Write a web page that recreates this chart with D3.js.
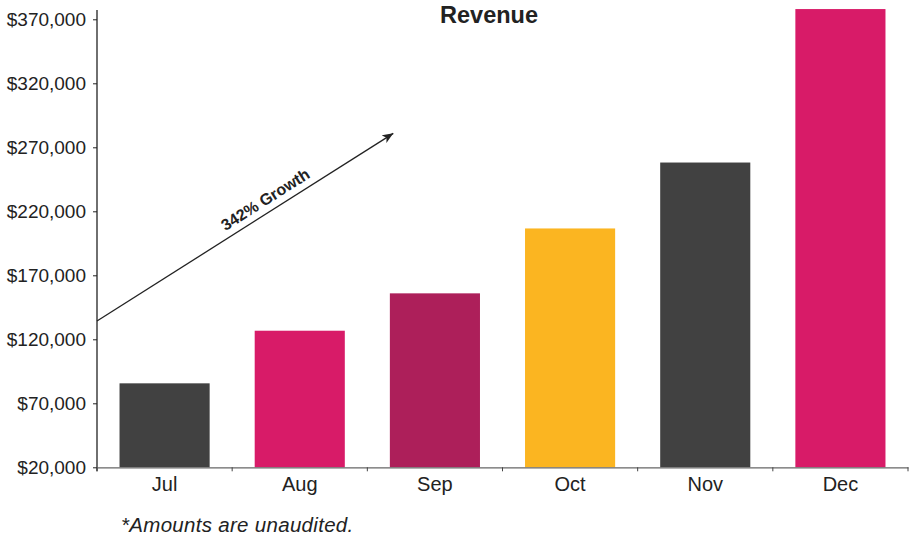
<!DOCTYPE html>
<html>
<head>
<meta charset="utf-8">
<script src="https://cdn.jsdelivr.net/npm/d3@7"></script>
<style>
  html, body { margin: 0; padding: 0; background: #fff; }
  svg { display: block; font-family: "Liberation Sans", Arial, Helvetica, sans-serif; }
</style>
</head>
<body>
<svg id="chart" width="911" height="537"></svg>
<script>
const months = ["Jul", "Aug", "Sep", "Oct", "Nov", "Dec"];
const revenue = [85600, 126700, 155900, 206600, 258100, 378000];
const barColors = ["#414141", "#d81b68", "#ad1f5a", "#fbb521", "#414141", "#d81b68"];
const yTicks = [20000, 70000, 120000, 170000, 220000, 270000, 320000, 370000];
const titleText = "Revenue";
const footnote = "*Amounts are unaudited.";
const growthLabel = "342% Growth";
const arrowValues = [134300, 280900];

(function () {
const svg = d3.select("#chart");
const mLeft = 97, mRight = 908, mTop = 19.3, mBottom = 467.3;

const x = d3.scaleBand().domain(months).range([mLeft, mRight])
  .paddingInner(1 / 3).paddingOuter(1 / 6);
const y = d3.scaleLinear().domain([20000, 370000]).range([mBottom, mTop]);

// bars
svg.append("g").selectAll("rect").data(months).join("rect")
  .attr("x", d => x(d))
  .attr("width", x.bandwidth())
  .attr("y", (d, i) => y(revenue[i]))
  .attr("height", (d, i) => mBottom - y(revenue[i]))
  .attr("fill", (d, i) => barColors[i]);

// y axis
const yAxis = svg.append("g").attr("transform", `translate(${mLeft},0)`)
  .call(d3.axisLeft(y).tickValues(yTicks).tickSize(4).tickPadding(7)
    .tickFormat(d => "$" + d3.format(",")(d)));
yAxis.select(".domain").attr("d", `M0,10V${mBottom + 4}`).attr("stroke", "#222").attr("stroke-width", 1.3);
yAxis.selectAll(".tick line").attr("stroke", "#222");
yAxis.selectAll(".tick text").attr("font-size", 19).attr("fill", "#222")
  .attr("font-family", "'Liberation Sans', Arial, sans-serif");

// x axis
const xAxis = svg.append("g").attr("transform", `translate(0,${mBottom})`)
  .call(d3.axisBottom(x).tickSize(0).tickPadding(10));
xAxis.select(".domain").attr("stroke", "#666").attr("stroke-width", 1.2);
xAxis.selectAll(".tick text").attr("font-size", 20).attr("fill", "#222")
  .attr("font-family", "'Liberation Sans', Arial, sans-serif");
// boundary ticks
const bounds = d3.range(months.length + 1).map(i => mLeft + i * x.step());
xAxis.append("g").selectAll("line").data(bounds).join("line")
  .attr("x1", d => d).attr("x2", d => d)
  .attr("y1", 0).attr("y2", 4)
  .attr("stroke", "#444").attr("stroke-width", 1);

// title
svg.append("text").attr("x", 489).attr("y", 23.3)
  .attr("text-anchor", "middle").attr("font-size", 23.5).attr("font-weight", "bold")
  .attr("fill", "#222").text(titleText);

// growth arrow
const defs = svg.append("defs");
defs.append("marker").attr("id", "arrowhead")
  .attr("viewBox", "0 0 12 10").attr("refX", 11).attr("refY", 5)
  .attr("markerWidth", 12).attr("markerHeight", 10)
  .attr("markerUnits", "userSpaceOnUse").attr("orient", "auto")
  .append("path").attr("d", "M0,0.5 L11,5 L0,9.5 L3,5 Z").attr("fill", "#222");

const ax1 = mLeft, ay1 = y(arrowValues[0]);
const ax2 = mLeft + 2.192 * x.step(), ay2 = y(arrowValues[1]);
svg.append("line")
  .attr("x1", ax1).attr("y1", ay1).attr("x2", ax2).attr("y2", ay2)
  .attr("stroke", "#222").attr("stroke-width", 1.3)
  .attr("marker-end", "url(#arrowhead)");

const ang = Math.atan2(ay2 - ay1, ax2 - ax1) * 180 / Math.PI;
const tcx = 272;
const tcy = ay1 + (tcx - ax1) * (ay2 - ay1) / (ax2 - ax1);
svg.append("text")
  .attr("transform", `translate(${tcx},${tcy}) rotate(${ang})`)
  .attr("y", -7)
  .attr("text-anchor", "middle").attr("font-size", 16).attr("font-weight", "bold")
  .attr("fill", "#222").text(growthLabel);

// footnote
svg.append("text").attr("x", 121).attr("y", 531.5)
  .attr("font-size", 20.5).attr("font-style", "italic").attr("fill", "#222")
  .attr("letter-spacing", 0.3)
  .text(footnote);
})();
</script>
</body>
</html>
